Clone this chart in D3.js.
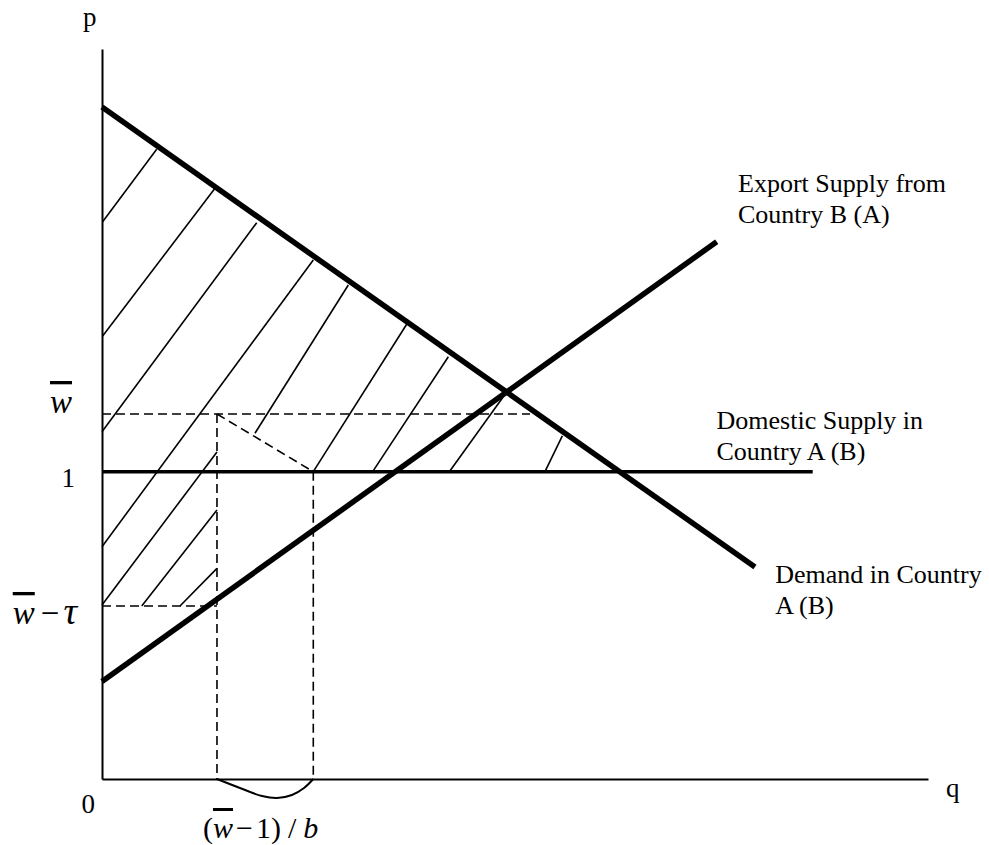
<!DOCTYPE html>
<html><head><meta charset="utf-8">
<script src="https://cdn.jsdelivr.net/npm/d3@7"></script>
<style>
body{margin:0;background:#fff}
text{font-family:"Liberation Serif","Times New Roman",serif;fill:#000}
</style>
</head><body>
<svg id="chart" width="989" height="845"></svg>
<script>
// ---- data (abstract units: q 0..100, p 0..100) ----
const demandPoints   = [{q:0, p:92.05}, {q:79.05, p:29.04}];
const exportSupplyPoints = [{q:0, p:13.36}, {q:74.42, p:73.60}];
const domesticSupplyPoints = [{q:0, p:42.10}, {q:86.04, p:42.10}];
const wBar = 50.0;          // \bar w
const wBarMinusTau = 23.70; // \bar w - tau
const pOne = 42.10;         // p = 1
const q1 = 13.92, q2 = 25.58, wBarDashEndQ = 51.82;
// hatch segments: [qStart, pStart, qEnd, pEnd]
const hatchSegments = [
  [0.08, 76.34, 6.62, 86.26],
  [0.08, 60.68, 13.68, 80.92],
  [0.00, 47.58, 18.73, 76.21],
  [0.00, 31.82, 25.58, 71.10],
  [0.00, 23.84, 13.92, 44.79],
  [18.52, 47.36, 29.82, 67.67],
  [4.81, 23.70, 13.92, 36.85],
  [9.44, 23.70, 13.92, 28.86],
  [25.58, 42.10, 37.08, 62.64],
  [32.77, 42.10, 41.93, 57.85],
  [42.05, 42.10, 48.58, 52.37],
  [53.63, 42.10, 55.73, 46.99]
];
const braceQ = [13.92, 16.70, 19.37, 21.19, 23.00, 24.46, 25.58];
const braceP = [0, -1.23, -2.33, -2.60, -2.19, -1.23, 0];
const curveLabels = [
  {lines:["Export Supply from","Country B (A)"], q:77.0, p:80.4},
  {lines:["Domestic Supply in","Country A (B)"], q:74.4, p:48.0},
  {lines:["Demand in Country","A (B)"], q:81.5, p:26.8}
];

// ---- scales ----
const svg = d3.select("#chart");
const x = d3.scaleLinear().domain([0,100]).range([102,928]);
const y = d3.scaleLinear().domain([0,100]).range([779,49]);
const line = d3.line().x(d=>x(d.q)).y(d=>y(d.p));

// axes (plain lines, no ticks)
svg.append("g").attr("transform",`translate(0,${y(0)})`)
  .call(d3.axisBottom(x).tickValues([]).tickSizeOuter(0))
  .select(".domain").attr("stroke","#000").attr("stroke-width",2);
svg.append("g").attr("transform",`translate(${x(0)},0)`)
  .call(d3.axisLeft(y).tickValues([]).tickSizeOuter(0))
  .select(".domain").attr("stroke","#000").attr("stroke-width",2);

// hatching
svg.append("g").selectAll("line").data(hatchSegments).join("line")
  .attr("x1",d=>x(d[0])).attr("y1",d=>y(d[1]))
  .attr("x2",d=>x(d[2])).attr("y2",d=>y(d[3]))
  .attr("stroke","#000").attr("stroke-width",1.6);

// dashed guides
const dashed = [
  [{q:0,p:wBar},{q:wBarDashEndQ,p:wBar}],
  [{q:0,p:wBarMinusTau},{q:q1,p:wBarMinusTau}],
  [{q:q1,p:wBar},{q:q1,p:0}],
  [{q:q2,p:pOne},{q:q2,p:0}],
  [{q:q1,p:wBar},{q:q2,p:pOne}]
];
svg.append("g").selectAll("path").data(dashed).join("path")
  .attr("d",line).attr("fill","none").attr("stroke","#000")
  .attr("stroke-width",1.6).attr("stroke-dasharray","9,5");

// main curves
svg.append("path").attr("d",line(domesticSupplyPoints)).attr("stroke","#000").attr("stroke-width",3.5).attr("fill","none");
svg.append("path").attr("d",line(demandPoints)).attr("stroke","#000").attr("stroke-width",5.5).attr("fill","none");
svg.append("path").attr("d",line(exportSupplyPoints)).attr("stroke","#000").attr("stroke-width",5.5).attr("fill","none");

// brace
const braceData = braceQ.map((q,i)=>({q, p:braceP[i]}));
svg.append("path").attr("d",d3.line().x(d=>x(d.q)).y(d=>y(d.p)).curve(d3.curveCatmullRom)(braceData))
  .attr("fill","none").attr("stroke","#000").attr("stroke-width",2);

// axis titles
svg.append("text").attr("x",x(0)-19).attr("y",y(100)-23).attr("font-size",27).text("p");
svg.append("text").attr("x",x(100)+18).attr("y",y(0)+18).attr("font-size",27).text("q");
svg.append("text").attr("x",x(0)-7).attr("y",y(0)+34).attr("font-size",27).attr("text-anchor","end").text("0");

// p tick labels
const t1 = svg.append("text").attr("x",x(0)-30).attr("y",y(wBar)-1).attr("font-size",33).attr("text-anchor","end");
t1.append("tspan").attr("font-style","italic").style("text-decoration","overline").text("w");
svg.append("text").attr("x",x(0)-27).attr("y",y(pOne)+15).attr("font-size",27).attr("text-anchor","end").text("1");
const t3 = svg.append("text").attr("x",x(0)-25).attr("y",y(wBarMinusTau)+18).attr("font-size",33).attr("text-anchor","end");
t3.append("tspan").attr("font-style","italic").style("text-decoration","overline").text("w");
t3.append("tspan").attr("dx",6).text("\u2212");
t3.append("tspan").attr("dx",4).attr("font-style","italic").attr("font-size",38).text("τ");

// q label
const t4 = svg.append("text").attr("x",x(q1)-14).attr("y",y(0)+59).attr("font-size",30);
t4.append("tspan").text("(");
t4.append("tspan").attr("font-style","italic").style("text-decoration","overline").text("w");
t4.append("tspan").attr("dx",3).text("\u2212");
t4.append("tspan").attr("dx",3).text("1)");
t4.append("tspan").attr("dx",7).text("/");
t4.append("tspan").attr("dx",7).attr("font-style","italic").text("b");

// curve labels
curveLabels.forEach(l=>{
  const t = svg.append("text").attr("x",x(l.q)).attr("y",y(l.p)).attr("font-size",26);
  l.lines.forEach((s,i)=>t.append("tspan").attr("x",x(l.q)).attr("dy",i?31:0).text(s));
});
</script>
</body></html>
